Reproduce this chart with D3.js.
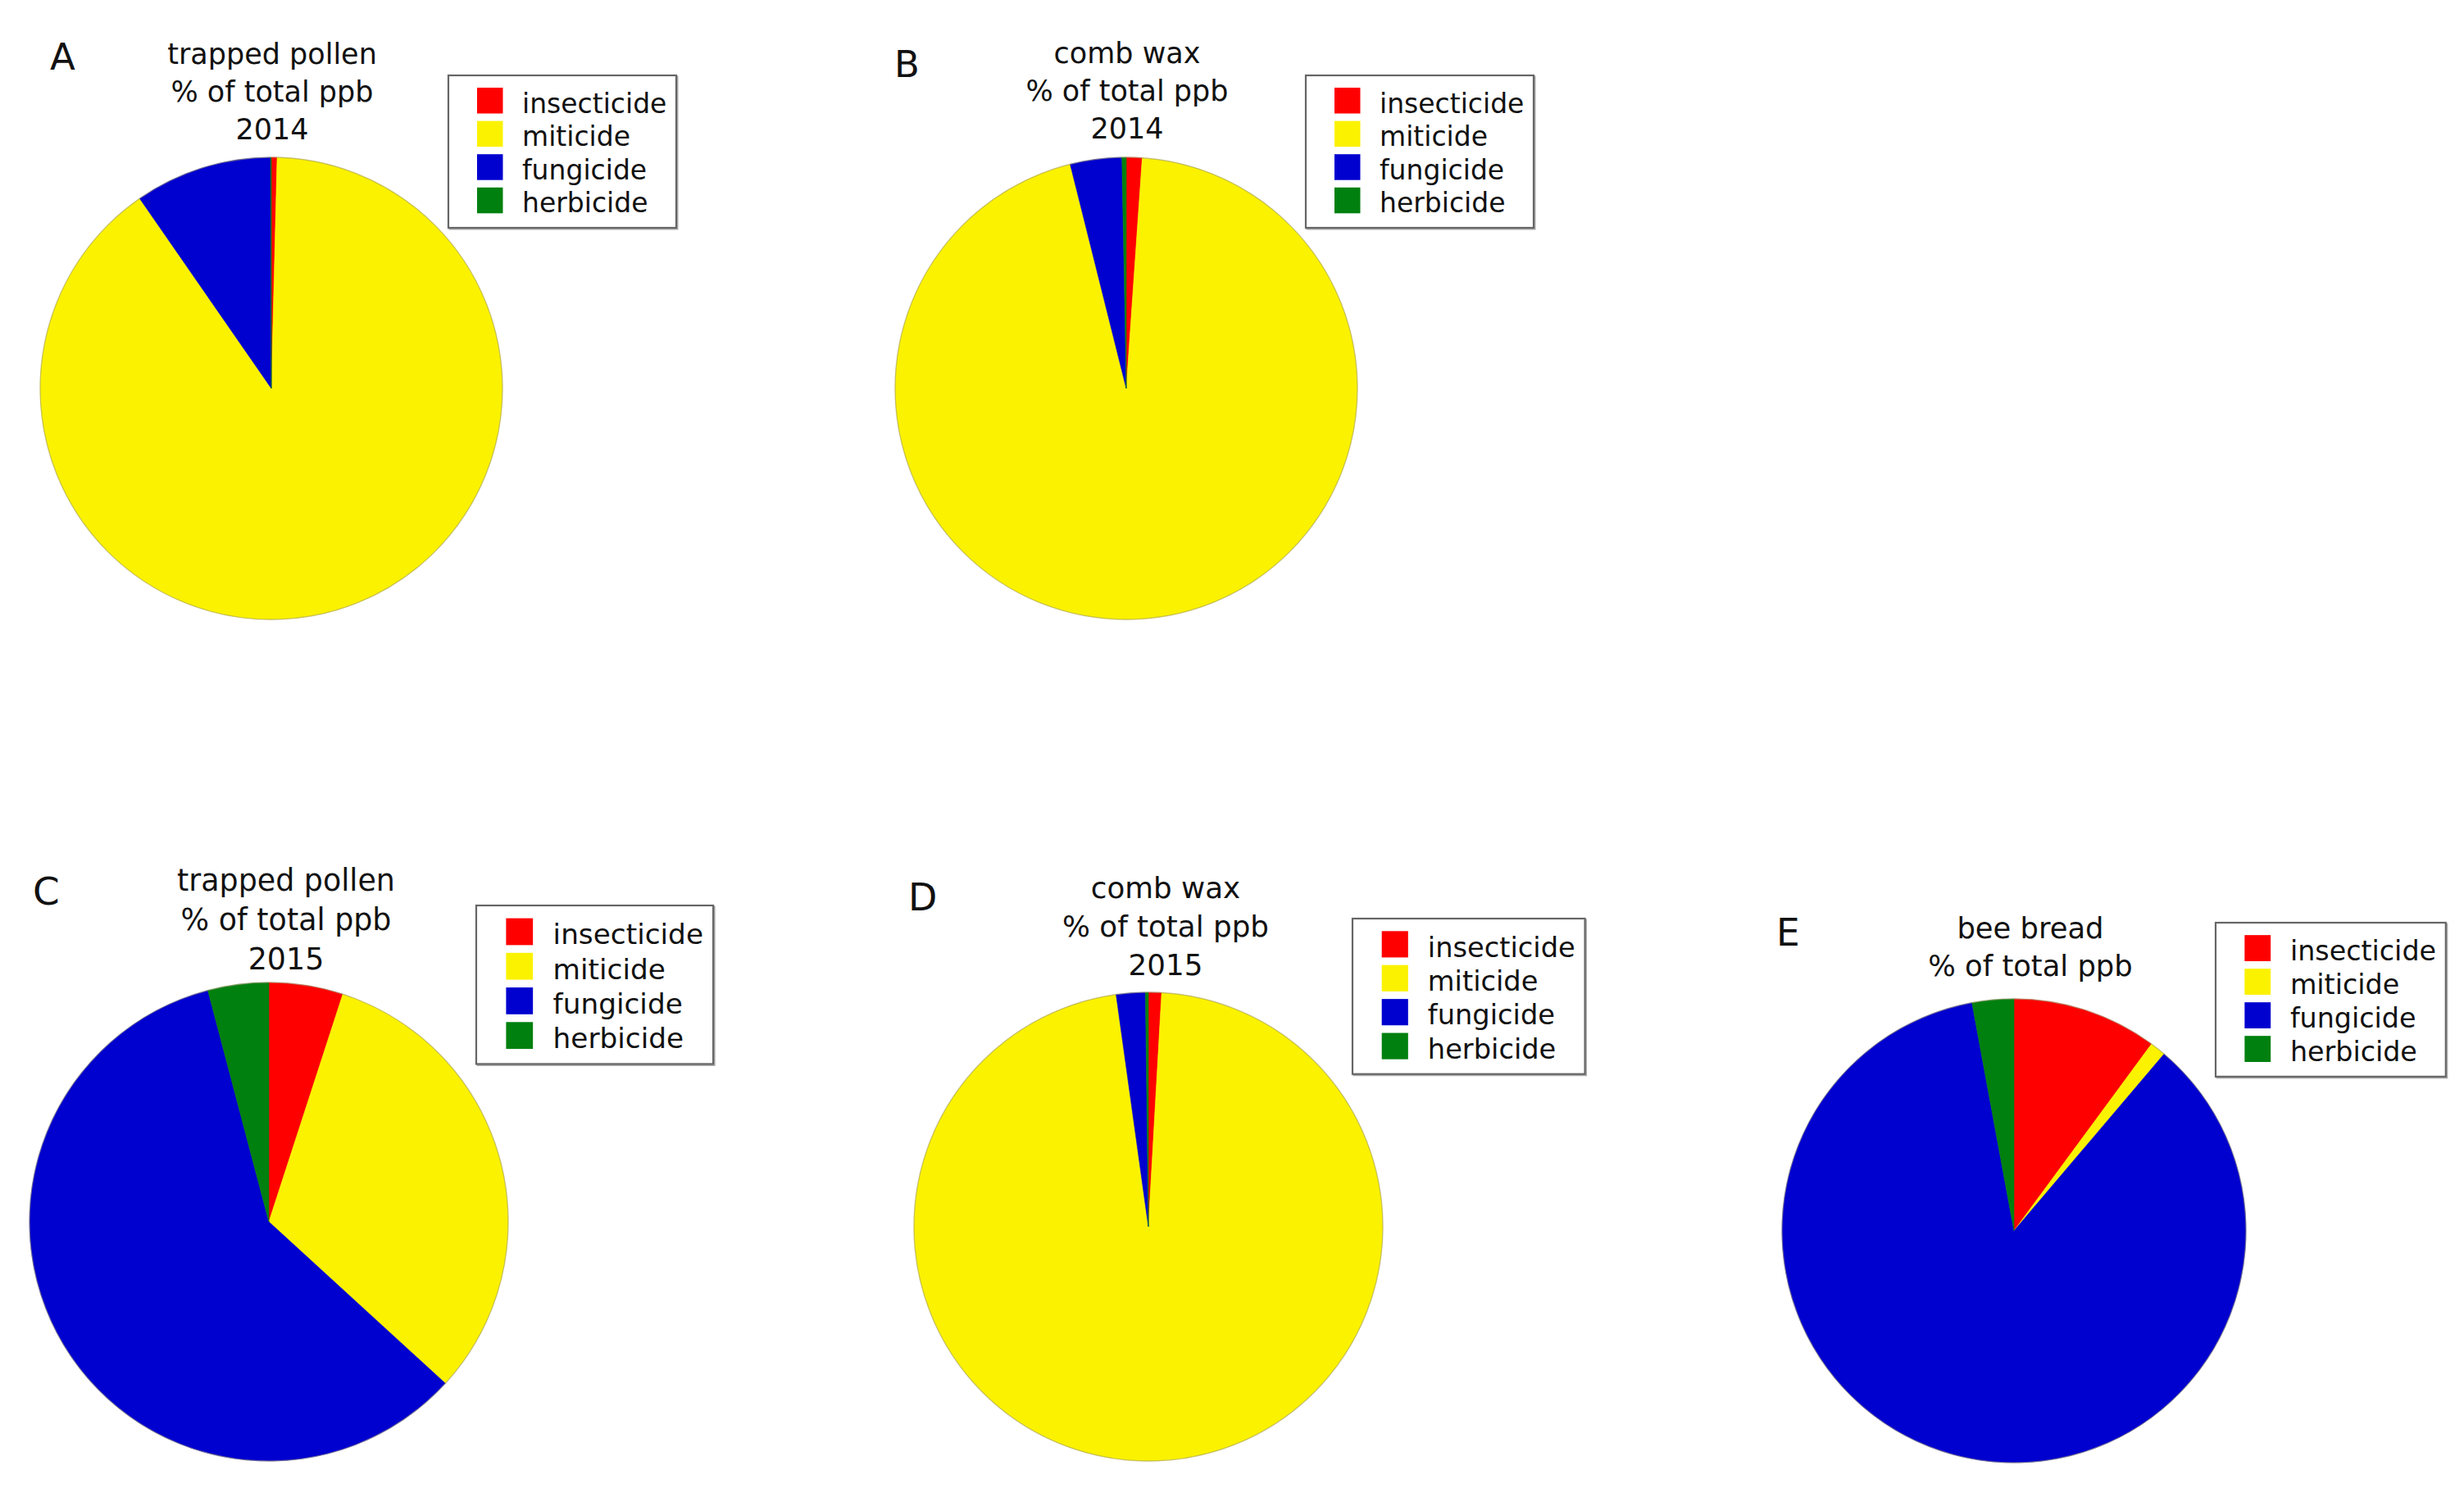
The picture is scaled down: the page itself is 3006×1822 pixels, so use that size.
<!DOCTYPE html>
<html>
<head>
<meta charset="utf-8">
<script src="https://cdn.jsdelivr.net/npm/d3@7"></script>
<style>
  body { margin: 0; background: #fff; }
  svg { display: block; }
  text { font-family: "DejaVu Sans", sans-serif; fill: #111; }
</style>
</head>
<body>
<div id="vis"></div>
<script>
// pesticide classes, clockwise from 12 o'clock
const categories = ["insecticide", "miticide", "fungicide", "herbicide"];
const colors = ["#fe0000", "#fbf200", "#0000cf", "#00800f"];

// % of total ppb
const trappedPollen2014 = [0.4, 90.0, 9.6, 0.05];
const combWax2014 = [1.1, 95.0, 3.6, 0.3];
const trappedPollen2015 = [5.0, 31.8, 59.1, 4.1];
const combWax2015 = [0.9, 96.9, 2.0, 0.2];
const beeBread = [10.1, 1.1, 85.9, 2.9];

const letters = ["A", "B", "C", "D", "E"];
const titles = [
  ["trapped pollen", "% of total ppb", "2014"],
  ["comb wax", "% of total ppb", "2014"],
  ["trapped pollen", "% of total ppb", "2015"],
  ["comb wax", "% of total ppb", "2015"],
  ["bee bread", "% of total ppb"]
];
const series = [trappedPollen2014, combWax2014, trappedPollen2015, combWax2015, beeBread];

// layout of each panel (pixels in the 3006x1822 page); k scales text and legend
const layout = [
  {cx: 331, cy: 474, r: 282, k: 1.00, tx: 332, ty: 78, lx: 61, ly: 85, bx: 547, by: 92},
  {cx: 1374, cy: 474, r: 282, k: 1.00, tx: 1375, ty: 77, lx: 1091, ly: 94, bx: 1593, by: 92},
  {cx: 328, cy: 1491, r: 292, k: 1.04, tx: 349, ty: 1087, lx: 40, ly: 1104, bx: 581, by: 1105},
  {cx: 1401, cy: 1497, r: 286, k: 1.02, tx: 1422, ty: 1096, lx: 1108, ly: 1111, bx: 1650, by: 1121},
  {cx: 2457, cy: 1502, r: 283, k: 1.01, tx: 2477, ty: 1145, lx: 2167, ly: 1154, bx: 2703, by: 1126}
];

const W = 3006, H = 1822;
const svg = d3.select("#vis").append("svg")
  .attr("width", W).attr("height", H)
  .attr("viewBox", [0, 0, W, H]);

const color = d3.scaleOrdinal().domain(categories).range(colors);
const pie = d3.pie().sort(null).value(d => d.v);

function drawPanel(i) {
  var p = layout[i];
  var k = p.k;
  var data = categories.map((c, j) => ({c: c, v: series[i][j]}));
  var g = svg.append("g");

  // pie
  var arc = d3.arc().innerRadius(0).outerRadius(p.r);
  var pg = g.append("g").attr("transform", "translate(" + p.cx + "," + p.cy + ")");
  pg.selectAll("path")
    .data(pie(data))
    .join("path")
      .attr("d", arc)
      .attr("fill", d => color(d.data.c))
      .attr("stroke", d => color(d.data.c))
      .attr("stroke-width", 0.6);
  pg.append("circle")
    .attr("r", p.r)
    .attr("fill", "none")
    .attr("stroke", "#9c9870")
    .attr("stroke-opacity", 0.55)
    .attr("stroke-width", 1.3);

  // panel letter
  g.append("text")
    .attr("x", p.lx).attr("y", p.ly)
    .attr("font-size", 45 * k)
    .text(letters[i]);

  // title
  g.append("text")
    .attr("text-anchor", "middle")
    .attr("font-size", 35 * k)
    .selectAll("tspan")
    .data(titles[i])
    .join("tspan")
      .attr("x", p.tx)
      .attr("y", (d, j) => p.ty + j * 46 * k)
      .text(d => d);

  // legend
  var bw = 278 * k, bh = 186 * k;
  var lg = g.append("g").attr("transform", "translate(" + p.bx + "," + p.by + ")");
  lg.append("rect")
    .attr("x", 1.5).attr("y", 1.5)
    .attr("width", bw).attr("height", bh)
    .attr("fill", "none")
    .attr("stroke", "#aaa")
    .attr("stroke-width", 2);
  lg.append("rect")
    .attr("width", bw).attr("height", bh)
    .attr("fill", "#fff")
    .attr("stroke", "#666")
    .attr("stroke-width", 2.2);
  var rows = lg.selectAll("g.row")
    .data(categories)
    .join("g")
      .attr("class", "row")
      .attr("transform", (d, j) => "translate(0," + (15 + j * 40.6) * k + ")");
  rows.append("rect")
    .attr("x", 35 * k)
    .attr("width", 31.5 * k).attr("height", 31.5 * k)
    .attr("fill", d => color(d));
  rows.append("text")
    .attr("x", 90 * k)
    .attr("y", 30.6 * k)
    .attr("font-size", 33 * k)
    .text(d => d);
}

for (var i = 0; i < series.length; i++) drawPanel(i);
</script>
</body>
</html>
